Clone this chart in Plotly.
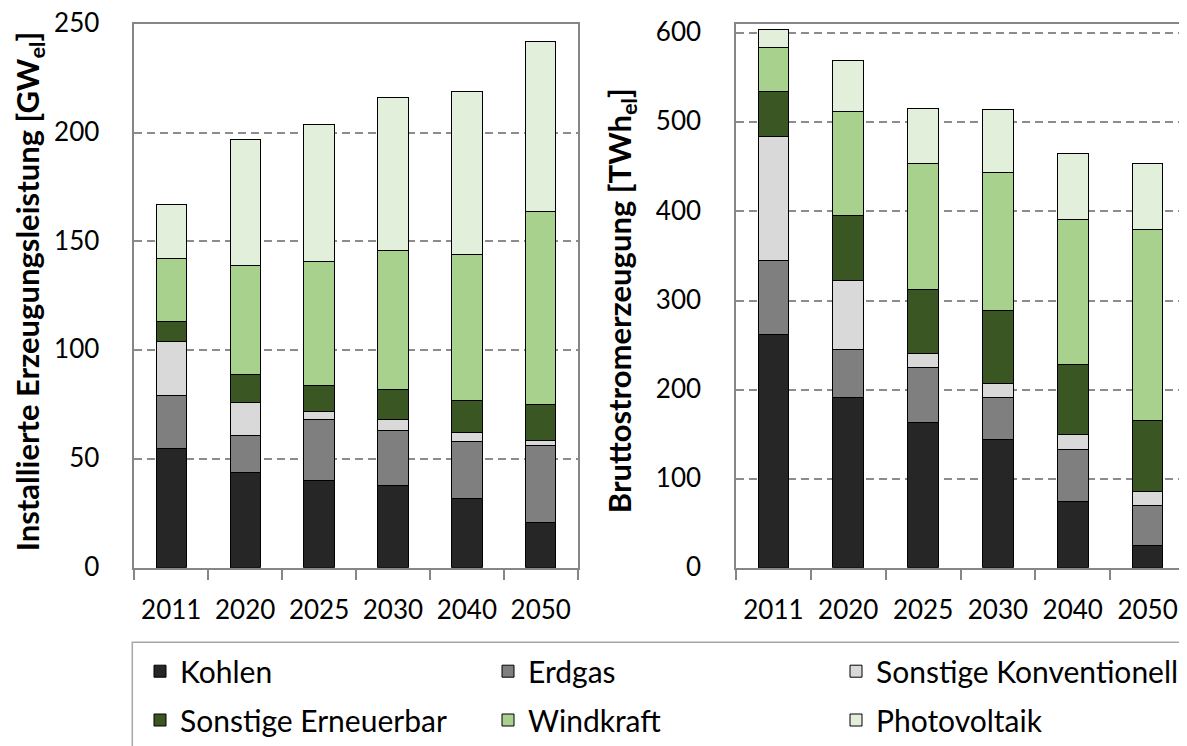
import plotly.graph_objects as go

years = ["2011", "2020", "2025", "2030", "2040", "2050"]
series_names = ["Kohlen", "Erdgas", "Sonstige Konventionell",
                "Sonstige Erneuerbar", "Windkraft", "Photovoltaik"]
colors = ["#262626", "#7f7f7f", "#d9d9d9", "#3a5623", "#a9d18e", "#e2efda"]

# Installed capacity [GW_el] (values per series)
cap_kohlen = [55, 44, 40, 38, 32, 21]
cap_erdgas = [24, 17, 28, 25, 26, 35]
cap_sonst_konv = [25, 15, 4, 5, 4, 2.5]
cap_sonst_ern = [9, 13, 12, 14, 15, 16.5]
cap_wind = [29, 50, 57, 64, 67, 89]
cap_pv = [25, 58, 63, 70, 75, 78]

# Gross electricity generation [TWh_el]
gen_kohlen = [262, 191, 163, 144, 74, 25]
gen_erdgas = [83, 54, 62, 47, 59, 45]
gen_sonst_konv = [139, 78, 16, 16, 17, 16]
gen_sonst_ern = [51, 73, 71, 82, 78, 79]
gen_wind = [49, 116, 142, 155, 163, 215]
gen_pv = [20, 57, 62, 70, 74, 74]

cap_series = [cap_kohlen, cap_erdgas, cap_sonst_konv, cap_sonst_ern, cap_wind, cap_pv]
gen_series = [gen_kohlen, gen_erdgas, gen_sonst_konv, gen_sonst_ern, gen_wind, gen_pv]

FONT = "Lato"
# the page body has an 8px margin, so the figure is drawn 8px right/down
OFF = 8
W, H = 1187 - OFF, 746 - OFF


def px(xs):
    return (xs - OFF) / W


def py(ys):
    return (H - (ys - OFF)) / H


fig = go.Figure()

for i, (name, col, vals) in enumerate(zip(series_names, colors, cap_series)):
    fig.add_trace(go.Bar(x=years, y=vals, name=name, marker_color=col,
                         marker_line=dict(color="#000000", width=1),
                         xaxis="x", yaxis="y", showlegend=True,
                         legend="legend" if i < 3 else "legend2"))
for name, col, vals in zip(series_names, colors, gen_series):
    fig.add_trace(go.Bar(x=years, y=vals, name=name, marker_color=col,
                         marker_line=dict(color="#000000", width=1),
                         xaxis="x2", yaxis="y2", showlegend=False))

xcommon = dict(type="category", showline=True, linecolor="#868686", linewidth=1.5,
               mirror=True, ticks="outside", tickson="boundaries", ticklen=10,
               tickcolor="#868686", tickwidth=1.5, showgrid=False, automargin=False,
               tickfont=dict(family=FONT, size=26, color="#000000"),
               ticklabelstandoff=18, ticklabeloverflow="allow")
ycommon = dict(showline=True, linecolor="#868686", linewidth=1.5, mirror=True,
               ticks="", showgrid=True, gridcolor="#8c8c8c", griddash="8px,5px",
               gridwidth=1.5, zeroline=False, automargin=False,
               tickfont=dict(family=FONT, size=26, color="#000000"),
               ticklabelstandoff=28, ticklabelshift=-1, ticklabeloverflow="allow")

legcommon = dict(orientation="h", x=px(140), xanchor="left", yanchor="middle",
                 borderwidth=0, entrywidth=303, bgcolor="rgba(0,0,0,0)",
                 font=dict(family=FONT, size=30, color="#000000"),
                 traceorder="normal")

fig.update_layout(
    width=W, height=H,
    margin=dict(l=0, r=0, t=0, b=0),
    plot_bgcolor="white", paper_bgcolor="white",
    barmode="stack", bargap=0.59,
    font=dict(family=FONT, color="#000000"),
    xaxis=dict(domain=[px(134.3), px(577.7)], anchor="y", **xcommon),
    yaxis=dict(domain=[py(569.3), py(24)], anchor="x", range=[0, 250], dtick=50, **ycommon),
    xaxis2=dict(domain=[px(736), px(1185)], anchor="y2", **xcommon),
    yaxis2=dict(domain=[py(569.3), py(24)], anchor="x2", range=[0, 610.5], dtick=100, **ycommon),
    legend=dict(y=py(673), **legcommon),
    legend2=dict(y=py(722), **legcommon),
    shapes=[dict(type="rect", xref="paper", yref="paper",
                 x0=px(132.3), x1=1.01, y0=-0.02, y1=py(644),
                 line=dict(color="#a6a6a6", width=1.5), fillcolor="rgba(0,0,0,0)")],
    annotations=[
        dict(text="<b>Installierte Erzeugungsleistung [GW<sub>el</sub>]</b>",
             x=px(29), y=py(293), xref="paper", yref="paper", textangle=-90,
             showarrow=False, xanchor="center", yanchor="middle",
             font=dict(family=FONT, size=31, color="#000000")),
        dict(text="<b>Bruttostromerzeugung [TWh<sub>el</sub>]</b>",
             x=px(621), y=py(302), xref="paper", yref="paper", textangle=-90,
             showarrow=False, xanchor="center", yanchor="middle",
             font=dict(family=FONT, size=31, color="#000000")),
    ],
)

fig.write_html("out.html")
